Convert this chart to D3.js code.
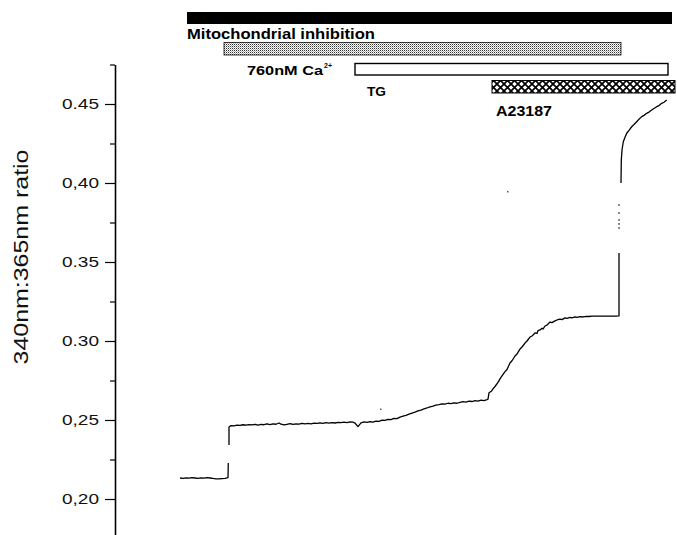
<!DOCTYPE html>
<html>
<head>
<meta charset="utf-8">
<script src="https://cdn.jsdelivr.net/npm/d3@7"></script>
<style>
  html, body { margin: 0; padding: 0; background: #fff; }
  svg { display: block; }
</style>
</head>
<body>
<svg id="chart" width="677" height="535"></svg>
<script>
// Fura-2 fluorescence ratio (340nm:365nm) recorded over time (s).
// null entries mark breaks in the recorded trace.
const traceTime = [
  0, 3, 6, 9, 12, 15, 18, 21, 24, 27, 30, 33, 36, 39, 42, 45, 47, 48, 48.3, 48.3,
  49, 49, 51, 54, 57, 60, 63, 66, 69, 72, 75, 78, 81, 84, 87, 90, 93, 96, 99, 101,
  104, 107, 110, 113, 116, 119, 122, 125, 128, 131, 134, 137, 140, 143, 146, 149,
  152, 155, 158, 161, 164, 167, 170, 173, 175, 177, 178, 179, 181, 184, 187, 190,
  193, 196, 199, 202, 205, 208, 211, 214, 217, 220, 223, 226, 229, 232, 235, 238,
  241, 244, 247, 250, 253, 256, 259, 262, 265, 268, 271, 274, 277, 280, 283, 286,
  289, 292, 295, 298, 301, 304, 307, 308, 309, 311, 313, 315, 318, 320, 322, 325,
  327, 330, 332, 335, 337, 340, 342, 345, 347, 350, 352, 355, 357, 358, 360, 362,
  363, 365, 367, 370, 372, 375, 377, 380, 382, 385, 387, 390, 392, 395, 397, 400,
  403, 406, 409, 412, 415, 418, 421, 424, 427, 430, 433, 436, 439, 439, 439,
  441, 441.3, 442, 443.3, 445, 446.7, 449, 451.7, 454, 456.7, 459, 461.7, 464,
  466.7, 469, 471.7, 474, 476.7, 479, 481.7, 484, 486.7
];
const traceRatio = [
  .2133, .2131, .2134, .2132, .2135, .2133, .2131, .2134, .2132, .2135, .2133, .2130, .2128, .2127, .2129, .2131, .2134, .2136, .2228, null,
  .2342, .2456, .2465, .2463, .2468, .2466, .2470, .2467, .2471, .2469, .2473, .2468, .2472, .2470, .2475, .2471, .2476, .2473, .2481, .2474,
  .2469, .2473, .2477, .2472, .2476, .2474, .2478, .2475, .2479, .2476, .2480, .2478, .2482, .2479, .2483, .2480,
  .2484, .2481, .2485, .2483, .2487, .2484, .2488, .2486, .2480, .2465, .2458, .2466, .2482, .2488, .2485, .2489,
  .2486, .2493, .2491, .2499, .2497, .2504, .2502, .2510, .2509, .2518, .2524, .2529, .2537, .2544, .2550, .2558,
  .2563, .2571, .2576, .2583, .2588, .2594, .2597, .2602, .2600, .2606, .2604, .2609, .2606, .2612, .2616, .2613,
  .2619, .2617, .2622, .2620, .2626, .2623, .2629, .2632, .2672, .2680, .2697, .2712, .2738, .2760, .2779, .2806,
  .2820, .2861, .2875, .2905, .2918, .2949, .2962, .2987, .3000, .3025, .3032, .3051, .3048, .3066, .3070, .3081,
  .3075, .3095, .3101, .3120, .3116, .3127, .3133, .3139, .3135, .3146, .3143, .3149, .3146, .3152, .3150, .3154,
  .3152, .3156, .3155, .3158, .3157, .3158, .3157, .3158, .3158, .3158, .3157, .3158, .3159, .3557, null,
  .4000, .4146, .4209, .4261, .4290, .4315, .4333, .4356, .4370, .4388, .4404, .4420, .4428,
  .4441, .4449, .4462, .4472, .4483, .4490, .4504, .4511, .4525
];

// Sparse samples caught during the rapid A23187 rise
const jumpTime = [439, 439, 439, 439, 439];
const jumpRatio = [.3861, .3810, .3766, .3741, .3715];

// Isolated single samples
const strayTime = [200.7, 327.7];
const strayRatio = [.2568, .3945];

// Treatment periods (s)
const treatNames = ["Mitochondrial inhibition", "760nM Ca", "TG", "A23187"];
const treatSup = ["", "2+", "", ""];
const treatStart = [7, 44, 175, 312];
const treatEnd = [492, 441, 488, 495];

// Y axis ticks
const yTicks = [0.20, 0.25, 0.30, 0.35, 0.40, 0.45];
const yTickLabels = ["0,20", "0,25", "0.30", "0.35", "0,40", "0.45"];
const yMinorTicks = [0.225, 0.275, 0.325, 0.375, 0.425, 0.475];
const yTitle = "340nm:365nm ratio";

const svg = d3.select("#chart");
const FONT = "'Liberation Sans', Arial, Helvetica, sans-serif";

svg.append("rect").attr("width", 677).attr("height", 535).attr("fill", "#fff");

const x = d3.scaleLinear().domain([0, 500]).range([180, 680]);
const y = d3.scaleLinear().domain([0.175, 0.475]).range([538.5, 64.5]);

// Fill patterns for the treatment bars
const defs = svg.append("defs");
const stip = defs.append("pattern").attr("id", "stipple")
  .attr("patternUnits", "userSpaceOnUse").attr("width", 2).attr("height", 2);
stip.append("rect").attr("width", 2).attr("height", 2).attr("fill", "#fff");
stip.append("rect").attr("x", 0).attr("y", 0).attr("width", 1).attr("height", 1).attr("fill", "#333");
stip.append("rect").attr("x", 1).attr("y", 1).attr("width", 1).attr("height", 1).attr("fill", "#aaa");

const hatch = defs.append("pattern").attr("id", "hatch")
  .attr("patternUnits", "userSpaceOnUse").attr("width", 7).attr("height", 7);
hatch.append("rect").attr("width", 7).attr("height", 7).attr("fill", "#fff");
hatch.append("path").attr("d", "M-1,-1L8,8M8,-1L-1,8")
  .attr("stroke", "#000").attr("stroke-width", 1.7);

// Treatment bars, one row each
const barRows = [
  { y: 12, h: 12, fill: "#000", stroke: "#000", sw: 0 },
  { y: 42.5, h: 12.5, fill: "url(#stipple)", stroke: "#111", sw: 0.8 },
  { y: 63.5, h: 11.5, fill: "#fff", stroke: "#000", sw: 1.4 },
  { y: 80.5, h: 12.5, fill: "url(#hatch)", stroke: "#000", sw: 1 }
];
const bars = svg.append("g");
treatNames.forEach((name, i) => {
  const r = barRows[i];
  bars.append("rect")
    .attr("x", x(treatStart[i]))
    .attr("y", r.y)
    .attr("width", x(treatEnd[i]) - x(treatStart[i]))
    .attr("height", r.h)
    .attr("fill", r.fill)
    .attr("stroke", r.sw ? r.stroke : "none")
    .attr("stroke-width", r.sw);
});

// Bar labels
const labelPos = [
  { x: 187, y: 39, size: 14.5, len: 188 },
  { x: 247, y: 75, size: 13.5, len: 76 },
  { x: 367, y: 96, size: 13.5, len: 19 },
  { x: 496, y: 116, size: 14, len: 56 }
];
treatNames.forEach((name, i) => {
  const p = labelPos[i];
  const t = svg.append("text")
    .attr("x", p.x).attr("y", p.y)
    .attr("font-family", FONT).attr("font-weight", "bold")
    .attr("font-size", p.size).attr("fill", "#000");
  t.append("tspan").text(name)
    .attr("textLength", p.len).attr("lengthAdjust", "spacingAndGlyphs");
  if (treatSup[i]) {
    t.append("tspan").text(treatSup[i])
      .attr("font-size", 7).attr("dx", 1).attr("dy", -7);
  }
});

// Y axis
const axisG = svg.append("g").attr("transform", "translate(115,0)");
axisG.call(d3.axisLeft(y)
  .tickValues(yTicks)
  .tickSize(10)
  .tickSizeOuter(0)
  .tickPadding(6)
  .tickFormat((d, i) => yTickLabels[i]));
axisG.select(".domain").attr("stroke-width", 1.6);
axisG.selectAll(".tick line").attr("stroke-width", 1.2);
axisG.selectAll(".tick text")
  .attr("font-family", FONT).attr("font-size", 14).attr("fill", "#111")
  .attr("textLength", 37).attr("lengthAdjust", "spacingAndGlyphs");

const minorG = svg.append("g").attr("transform", "translate(115,0)");
minorG.call(d3.axisLeft(y).tickValues(yMinorTicks).tickSize(5).tickFormat(""));
minorG.select(".domain").remove();
minorG.selectAll(".tick line").attr("stroke-width", 1.2);

// Y axis title
svg.append("text")
  .attr("transform", "translate(28,257) rotate(-90)")
  .attr("text-anchor", "middle")
  .attr("font-family", FONT).attr("font-size", 20).attr("fill", "#111")
  .attr("textLength", 215).attr("lengthAdjust", "spacingAndGlyphs")
  .text(yTitle);

// Ratio trace
const traceData = traceTime.map((t, i) => ({ t, v: traceRatio[i] }));
const line = d3.line()
  .defined(d => d.v !== null)
  .x(d => x(d.t))
  .y(d => y(d.v));
svg.append("path")
  .datum(traceData)
  .attr("d", line)
  .attr("fill", "none")
  .attr("stroke", "#000")
  .attr("stroke-width", 1.3)
  .attr("stroke-linejoin", "round");

// Sparse and isolated samples
svg.append("g").selectAll("rect.jump")
  .data(jumpTime.map((t, i) => ({ t, v: jumpRatio[i] })))
  .join("rect")
  .attr("x", d => x(d.t) - 0.6).attr("y", d => y(d.v) - 0.8)
  .attr("width", 1.3).attr("height", 1.6).attr("fill", "#222");

svg.append("g").selectAll("rect.stray")
  .data(strayTime.map((t, i) => ({ t, v: strayRatio[i] })))
  .join("rect")
  .attr("x", d => x(d.t) - 0.7).attr("y", d => y(d.v) - 0.7)
  .attr("width", 1.5).attr("height", 1.5).attr("fill", "#555");
</script>
</body>
</html>
